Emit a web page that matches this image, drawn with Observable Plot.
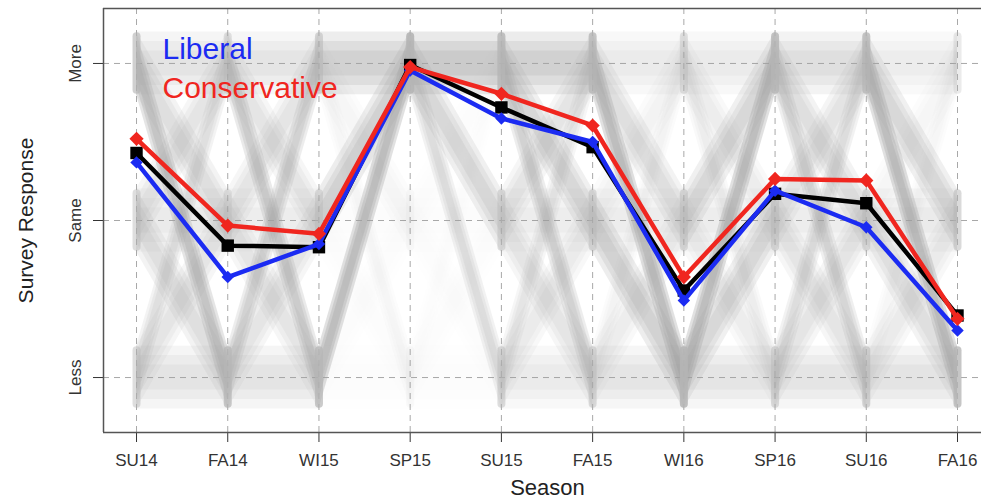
<!DOCTYPE html>
<html>
<head>
<meta charset="utf-8">
<script src="https://cdn.jsdelivr.net/npm/d3@7"></script>
<script src="https://cdn.jsdelivr.net/npm/@observablehq/plot@0.6"></script>
<style>
  html, body { margin: 0; padding: 0; background: #fff; overflow: hidden; }
  #chart svg { display: block; }
</style>
</head>
<body>
<div id="chart"></div>
<script>
// ---- data ----
const seasons = ["SU14", "FA14", "WI15", "SP15", "SU15", "FA15", "WI16", "SP16", "SU16", "FA16"];
const levelValues = [1, 0, -1];
const levelLabels = ["More", "Same", "Less"];
const overall      = [0.43, -0.16, -0.17, 0.99, 0.72, 0.467, -0.446, 0.17, 0.11, -0.605];
const liberal      = [0.37, -0.36, -0.15, 0.955, 0.65, 0.50, -0.51, 0.19, -0.043, -0.70];
const conservative = [0.52, -0.032, -0.085, 0.977, 0.807, 0.605, -0.36, 0.265, 0.255, -0.626];
const seriesNames = ["Liberal", "Conservative"];

// density of individual responses moving between adjacent seasons
// rows: from More/Same/Less, columns: to More/Same/Less
const transitions = [
  [[0.35, 0.4, 0.9], [0.3, 0.25, 0.4], [0.4, 0.3, 0.35]],     // SU14 -> FA14
  [[0.3, 0.3, 0.7], [0.3, 0.2, 0.3], [0.6, 0.3, 0.35]],       // FA14 -> WI15
  [[0.6, 0.08, 0.08], [0.6, 0.05, 0.05], [1.0, 0.05, 0.05]],  // WI15 -> SP15
  [[0.75, 0.5, 0.45], [0.05, 0.05, 0.05], [0.05, 0.05, 0.05]], // SP15 -> SU15
  [[0.65, 0.5, 0.6], [0.3, 0.2, 0.3], [0.3, 0.25, 0.25]],     // SU15 -> FA15
  [[0.25, 0.4, 1.0], [0.15, 0.2, 0.6], [0.15, 0.2, 0.3]],     // FA15 -> WI16
  [[0.25, 0.2, 0.2], [0.5, 0.2, 0.2], [1.0, 0.5, 0.3]],       // WI16 -> SP16
  [[0.4, 0.4, 0.55], [0.35, 0.2, 0.3], [0.45, 0.3, 0.3]],     // SP16 -> SU16
  [[0.2, 0.5, 1.0], [0.1, 0.25, 0.4], [0.1, 0.25, 0.35]]      // SU16 -> FA16
];
// share of respondents at each level (More, Same, Less) per season
const clusterShare = [
  [0.7, 0.5, 0.5], [0.4, 0.35, 0.8], [0.55, 0.45, 0.8], [1.0, 0.08, 0.08], [0.9, 0.5, 0.5],
  [0.85, 0.5, 0.5], [0.4, 0.5, 0.95], [0.9, 0.5, 0.5], [0.85, 0.45, 0.6], [0.3, 0.55, 0.85]
];

// ---- layout / style ----
const xDomain = [-0.362, 9.263];
const yDomain = [-1.35, 1.35];
const spreads = [0.2, 0.14, 0.08];
const blue = "#1b2bf2";
const red = "#f0261f";
const idx = seasons.map((_, i) => i);

const bandMarks = [];
transitions.forEach((m, g) => {
  m.forEach((row, a) => {
    row.forEach((w, b) => {
      spreads.forEach(h => {
        const pts = [
          {x: g, y1: levelValues[a] - h, y2: levelValues[a] + h},
          {x: g + 1, y1: levelValues[b] - h, y2: levelValues[b] + h}
        ];
        bandMarks.push(Plot.areaY(pts, {x: "x", y1: "y1", y2: "y2", fill: "#a3a3a3", fillOpacity: w * 0.32}));
      });
    });
  });
});

const clusterMarks = [];
clusterShare.forEach((s, i) => {
  s.forEach((w, k) => {
    clusterMarks.push(Plot.ruleX([i], {
      y1: levelValues[k] - 0.17, y2: levelValues[k] + 0.17,
      stroke: "#b5b5b5", strokeOpacity: w * 0.9, strokeWidth: 8, strokeLinecap: "round"
    }));
  });
});

const chart = Plot.plot({
  width: 981,
  height: 500,
  marginLeft: 103,
  marginRight: 0,
  marginTop: 8,
  marginBottom: 68,
  style: {fontFamily: "'Liberation Sans', Arial, sans-serif", fontSize: "17px", color: "#333", background: "white"},
  x: {domain: xDomain, ticks: idx, tickFormat: i => seasons[i], tickSize: 10, tickPadding: 11, label: null},
  y: {domain: yDomain, ticks: levelValues, tickFormat: () => "", tickSize: 10, label: null},
  marks: [
    Plot.ruleY(levelValues, {stroke: "#a8a8a8", strokeDasharray: "6,5", strokeWidth: 1}),
    Plot.ruleX(idx, {stroke: "#a8a8a8", strokeDasharray: "6,5", strokeWidth: 1}),
    ...bandMarks,
    ...clusterMarks,
    Plot.ruleX([xDomain[0]], {stroke: "#555", strokeWidth: 1.5}),
    Plot.ruleY(yDomain, {stroke: "#555", strokeWidth: 1.5}),
    Plot.text(levelValues, {y: d => d, text: (d, i) => levelLabels[i], frameAnchor: "left", textAnchor: "middle", lineAnchor: "middle", dx: -28, rotate: -90, fontSize: 17, fill: "#333"}),
    Plot.text(["Survey Response"], {frameAnchor: "left", textAnchor: "middle", lineAnchor: "middle", dx: -77, rotate: -90, fontSize: 21, fill: "#222"}),
    Plot.text(["Season"], {frameAnchor: "bottom", textAnchor: "middle", lineAnchor: "bottom", dx: 5, dy: 62, fontSize: 22, fill: "#222"}),
    Plot.line(overall, {x: (d, i) => i, y: d => d, stroke: "black", strokeWidth: 4.5}),
    Plot.dot(overall, {x: (d, i) => i, y: d => d, symbol: "square", r: 7, fill: "black"}),
    Plot.line(liberal, {x: (d, i) => i, y: d => d, stroke: blue, strokeWidth: 4.5}),
    Plot.dot(liberal, {x: (d, i) => i, y: d => d, symbol: "diamond2", r: 5.6, fill: blue}),
    Plot.line(conservative, {x: (d, i) => i, y: d => d, stroke: red, strokeWidth: 4.5}),
    Plot.dot(conservative, {x: (d, i) => i, y: d => d, symbol: "diamond2", r: 6.4, fill: red}),
    Plot.text([seriesNames[0]], {frameAnchor: "top-left", dx: 59, dy: 50, textAnchor: "start", lineAnchor: "bottom", fontSize: 30, fill: blue}),
    Plot.text([seriesNames[1]], {frameAnchor: "top-left", dx: 59, dy: 89, textAnchor: "start", lineAnchor: "bottom", fontSize: 30, fill: red})
  ]
});
document.getElementById("chart").appendChild(chart);
</script>
</body>
</html>
